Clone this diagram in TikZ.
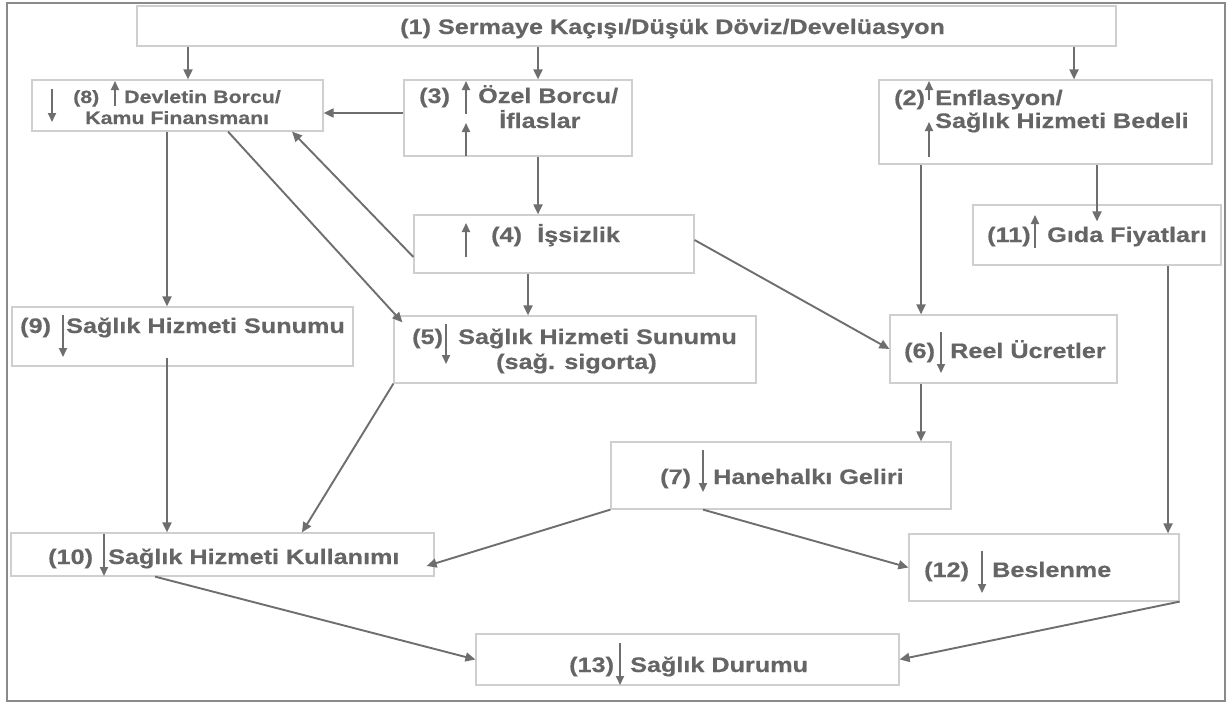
\documentclass[tikz,border=0pt]{standalone}
\usepackage{fontspec}
\newfontfamily\lblfont{Liberation Sans}[FakeStretch=1.2,FakeBold=0.5]
\usetikzlibrary{arrows.meta,calc}
\definecolor{linegray}{HTML}{6E6E6E}
\definecolor{textgray}{HTML}{656565}
\definecolor{boxgray}{HTML}{CFCFCF}
\definecolor{framegray}{HTML}{8A8A8A}
\begin{document}
\begin{tikzpicture}[x=1pt,y=-1pt,
  box/.style={draw=boxgray, line width=1.2pt, inner sep=0pt, rectangle},
  lbl/.style={anchor=base west, inner sep=0pt, text=textgray, font=\lblfont\bfseries\fontsize{21}{25}\selectfont},
  slbl/.style={lbl, font=\lblfont\bfseries\fontsize{17.8}{21}\selectfont},
  conn/.style={draw=linegray, line width=1.9pt, -{Triangle[length=10pt,width=9pt]}},
  glyph/.style={draw=linegray, line width=1.9pt, -{Triangle[length=9pt,width=8pt]}}]
\useasboundingbox (0,0) rectangle (1230,704);
\draw[framegray, line width=1.5pt] (7,3) rectangle (1225,701);

% boxes
\node[box, minimum width=979pt, minimum height=40pt] (n1) at (626.5,26) {};
\node[box, minimum width=291pt, minimum height=51pt] (n8) at (177.5,105.5) {};
\node[box, minimum width=228pt, minimum height=76pt] (n3) at (518,118) {};
\node[box, minimum width=333pt, minimum height=84pt] (n2) at (1045.5,122) {};
\node[box, minimum width=280pt, minimum height=58pt] (n4) at (554,244) {};
\node[box, minimum width=248pt, minimum height=60pt] (n11) at (1097,235) {};
\node[box, minimum width=341pt, minimum height=59pt] (n9) at (182.5,336.5) {};
\node[box, minimum width=362pt, minimum height=67pt] (n5) at (575,349.5) {};
\node[box, minimum width=227pt, minimum height=68pt] (n6) at (1003.5,349) {};
\node[box, minimum width=340pt, minimum height=67pt] (n7) at (781,475.5) {};
\node[box, minimum width=423pt, minimum height=43pt] (n10) at (222.5,554.5) {};
\node[box, minimum width=270pt, minimum height=67pt] (n12) at (1044,567.5) {};
\node[box, minimum width=423pt, minimum height=51pt] (n13) at (687.5,659.5) {};

% texts
\node[lbl] (t1) at (400,34) {(1) Sermaye Kaçışı/Düşük Döviz/Develüasyon};
\node[slbl] (t8a) at (73,103) {(8)};
\node[slbl] (t8b) at (124,103) {Devletin Borcu/};
\node[slbl] (t8c) at (85,124) {Kamu Finansmanı};
\node[lbl] (t3a) at (419,103) {(3)};
\node[lbl] (t3b) at (478,103) {Özel Borcu/};
\node[lbl] (t3c) at (499,128) {İflaslar};
\node[lbl] (t2a) at (894,105) {(2)};
\node[lbl] (t2b) at (935,105) {Enflasyon/};
\node[lbl] (t2c) at (935,128) {Sağlık Hizmeti Bedeli};
\node[lbl] (t4a) at (491,242) {(4)};
\node[lbl] (t4b) at (537,242) {İşsizlik};
\node[lbl] (t11a) at (987,242) {(11)};
\node[lbl] (t11b) at (1047,242) {Gıda Fiyatları};
\node[lbl] (t9a) at (20,333) {(9)};
\node[lbl] (t9b) at (66,333) {Sağlık Hizmeti Sunumu};
\node[lbl] (t5a) at (412,344) {(5)};
\node[lbl] (t5b) at (458,344) {Sağlık Hizmeti Sunumu};
\node[lbl] (t5c) at (496,369) {(sağ. sigorta)};
\node[lbl] (t6a) at (904,358) {(6)};
\node[lbl] (t6b) at (950,358) {Reel Ücretler};
\node[lbl] (t7a) at (660,484) {(7)};
\node[lbl] (t7b) at (713,484) {Hanehalkı Geliri};
\node[lbl] (t10a) at (48,564) {(10)};
\node[lbl] (t10b) at (108,564) {Sağlık Hizmeti Kullanımı};
\node[lbl] (t12a) at (924,577) {(12)};
\node[lbl] (t12b) at (992,577) {Beslenme};
\node[lbl] (t13a) at (569,672) {(13)};
\node[lbl] (t13b) at (630,672) {Sağlık Durumu};

% arrow glyphs inside the texts
\draw[glyph] (52,89) -- (52,122);
\draw[glyph] (115,106) -- (115,81);
\draw[glyph] (466,114) -- (466,81);
\draw[glyph] (466,156) -- (466,123);
\draw[glyph] (929,100) -- (929,81);
\draw[glyph] (929,157) -- (929,122);
\draw[glyph] (466,257) -- (466,223);
\draw[glyph] (1035,248) -- (1035,215);
\draw[glyph] (63,315) -- (63,357);
\draw[glyph] (446,324) -- (446,364);
\draw[glyph] (941,332) -- (941,373);
\draw[glyph] (703,450) -- (703,492);
\draw[glyph] (104,534) -- (104,576);
\draw[glyph] (982,551) -- (982,593);
\draw[glyph] (620,643) -- (620,685);

% helper coordinates
\coordinate (v155) at (155,0);
\coordinate (v167) at (167,0);
\coordinate (v188) at (188,0);
\coordinate (v228) at (228,0);
\coordinate (v292) at (292,0);
\coordinate (v302) at (302,0);
\coordinate (v528) at (528,0);
\coordinate (v538) at (538,0);
\coordinate (v703) at (703,0);
\coordinate (v921) at (921,0);
\coordinate (v1074) at (1074,0);
\coordinate (v1097) at (1097,0);
\coordinate (v1168) at (1168,0);
\coordinate (h113) at (0,113);

% connectors
\draw[conn] (n1.south -| v188) -- (n8.north -| v188);
\draw[conn] (n1.south -| v538) -- (n3.north -| v538);
\draw[conn] (n1.south -| v1074) -- (n2.north -| v1074);
\draw[conn] (n3.west |- h113) -- (n8.east |- h113);
\draw[conn] (n8.south -| v167) -- (n9.north -| v167);
\draw[conn] (n8.south -| v228) -- ($(n5.north west)+(9,7)$);
\draw[conn] ($(n4.west)+(0,13)$) -- (n8.south -| v292);
\draw[conn] (n3.south -| v538) -- (n4.north -| v538);
\draw[conn] (n4.south -| v528) -- (n5.north -| v528);
\draw[conn] ($(n4.east)+(0,-4)$) -- (n6.west);
\draw[conn] (n2.south -| v921) -- (n6.north -| v921);
\draw[conn] (n2.south -| v1097) -- ($(n11.north -| v1097)+(0,17)$);
\draw[conn] (n11.south -| v1168) -- (n12.north -| v1168);
\draw[conn] (n6.south -| v921) -- (n7.north -| v921);
\draw[conn] ($(n9.south -| v167)+(0,-9)$) -- (n10.north -| v167);
\draw[conn] (n5.south west) -- (n10.north -| v302);
\draw[conn] (n7.south west) -- ($(n10.east)+(-8,11.5)$);
\draw[conn] (n7.south -| v703) -- (n12.west);
\draw[conn] (n10.south -| v155) -- (n13.west);
\draw[conn] (n12.south east) -- (n13.east);
\end{tikzpicture}
\end{document}
